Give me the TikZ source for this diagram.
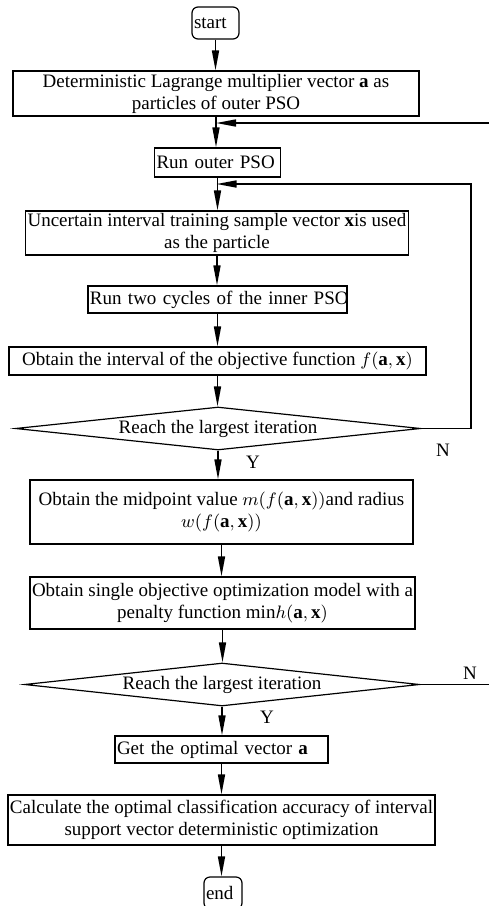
\documentclass[tikz,border=0pt]{standalone}
\usepackage{fontspec}
\setmainfont{Liberation Serif}
\usetikzlibrary{shapes.geometric,arrows.meta}

\begin{document}
\begin{tikzpicture}[x=0.5pt, y=-0.5pt,
		font=\fontsize{9.5}{11}\selectfont,
		flow/.style={-{Triangle[length=10pt,width=3.5pt]}, line width=0.8pt},
		box/.style={draw, line width=0.6pt, inner xsep=1pt, inner ysep=0pt, align=center},
		term/.style={box, rounded corners=3pt, align=left},
		decision/.style={draw, line width=0.6pt, shape=diamond, aspect=9.4, inner sep=0pt,
			minimum width=202.5pt, minimum height=21.5pt}]
		% Definizioni per i rami di ritorno
		\def\innerx{471} % ascissa del ciclo interno
		\def\outerx{490} % ascissa del ciclo esterno (fuori dal bordo)
		
		\useasboundingbox (0,0) rectangle (488,906);
		
		% --- Blocchi ---
		\node[term, text width=21.5pt, minimum height=16pt] (start) at (215.5,23) {\mbox{start}};
		\node[box, minimum width=203pt, minimum height=22.5pt] (lagr) at (216,93.5)
			{Deterministic Lagrange multiplier vector \textbf{a} as\\ particles of outer PSO};
		\node[box, align=left, text width=61pt, minimum height=14.5pt] (outer) at (217.5,162.5)
			{\mbox{Run outer PSO}};
		\node[box, minimum width=191pt, minimum height=22pt] (sample) at (217,233)
			{Uncertain interval training sample vector \textbf{x}is used\\ as the particle};
		\node[box, align=left, text width=127.5pt, minimum height=13.5pt] (inner) at (217.5,299.5)
			{\mbox{Run two cycles of the inner PSO}};
		\node[box, minimum width=208.5pt, minimum height=14pt] (interval) at (217.5,361)
			{Obtain the interval of the objective function $f(\mathbf{a},\mathbf{x})$};
		\node[decision] (reach1) at (218,428.5) {Reach the largest iteration};
		\node[box, minimum width=191.5pt, minimum height=32pt] (midpt) at (221.5,512)
			{Obtain the midpoint value $m(f(\mathbf{a},\mathbf{x}))$and radius\\ $w(f(\mathbf{a},\mathbf{x}))$};
		\node[box, minimum width=191.5pt, minimum height=26pt] (penalty) at (222.5,603)
			{Obtain single objective optimization model with a\\ penalty function $\mathrm{min}h(\mathbf{a},\mathbf{x})$};
		\node[decision, minimum width=197.5pt] (reach2) at (222,684.5) {Reach the largest iteration};
		\node[box, align=left, text width=104.5pt, minimum height=13.5pt] (optvec) at (221.5,749.5)
			{\mbox{Get the optimal vector \textbf{a}}};
		\node[box, minimum width=213.5pt, minimum height=25pt] (accur) at (221.5,820)
			{Calculate the optimal classification accuracy of interval\\ support vector deterministic optimization};
		\node[term, text width=17pt, minimum height=16pt] (end) at (223,893) {\mbox{end}};
		
		% --- Etichette ---
		\node (n1) at (443,450) {N};
		\node (y1) at (253,462) {Y};
		\node (n2) at (470,673) {N};
		\node (y2) at (267,717) {Y};
		
		% --- Punti di innesto ---
		\coordinate (join1) at (216,123);
		\coordinate (join2) at (216.5,184);
		\coordinate (loopin) at (\innerx,184);
		\coordinate (loopout) at (\outerx,123);
		
		% --- Flusso principale ---
		\draw[flow] (start) -- (start |- lagr.north);
		\draw[flow] (lagr) -- (lagr |- outer.north);
		\draw[flow] (outer) -- (outer |- sample.north);
		\draw[flow] (sample) -- (sample |- inner.north);
		\draw[flow] (inner) -- (inner |- interval.north);
		\draw[flow] (interval) -- (interval |- reach1.north);
		\draw[flow] (reach1.south) -- (reach1.south |- midpt.north);
		\draw[flow] (midpt) -- (midpt |- penalty.north);
		\draw[flow] (penalty) -- (penalty |- reach2.north);
		\draw[flow] (reach2.south) -- (reach2.south |- optvec.north);
		\draw[flow] (optvec) -- (optvec |- accur.north);
		\draw[flow] (accur) -- (accur |- end.north);
		
		% --- Rami di ritorno ---
		% Ciclo interno: torna sotto "Run outer PSO"
		\draw[flow] (reach1.east) -| (loopin) -- (join2);
		% Ciclo esterno: torna sotto il primo blocco
		\draw[flow] (reach2.east) -| (loopout) -- (join1);
	\end{tikzpicture}
\end{document}
